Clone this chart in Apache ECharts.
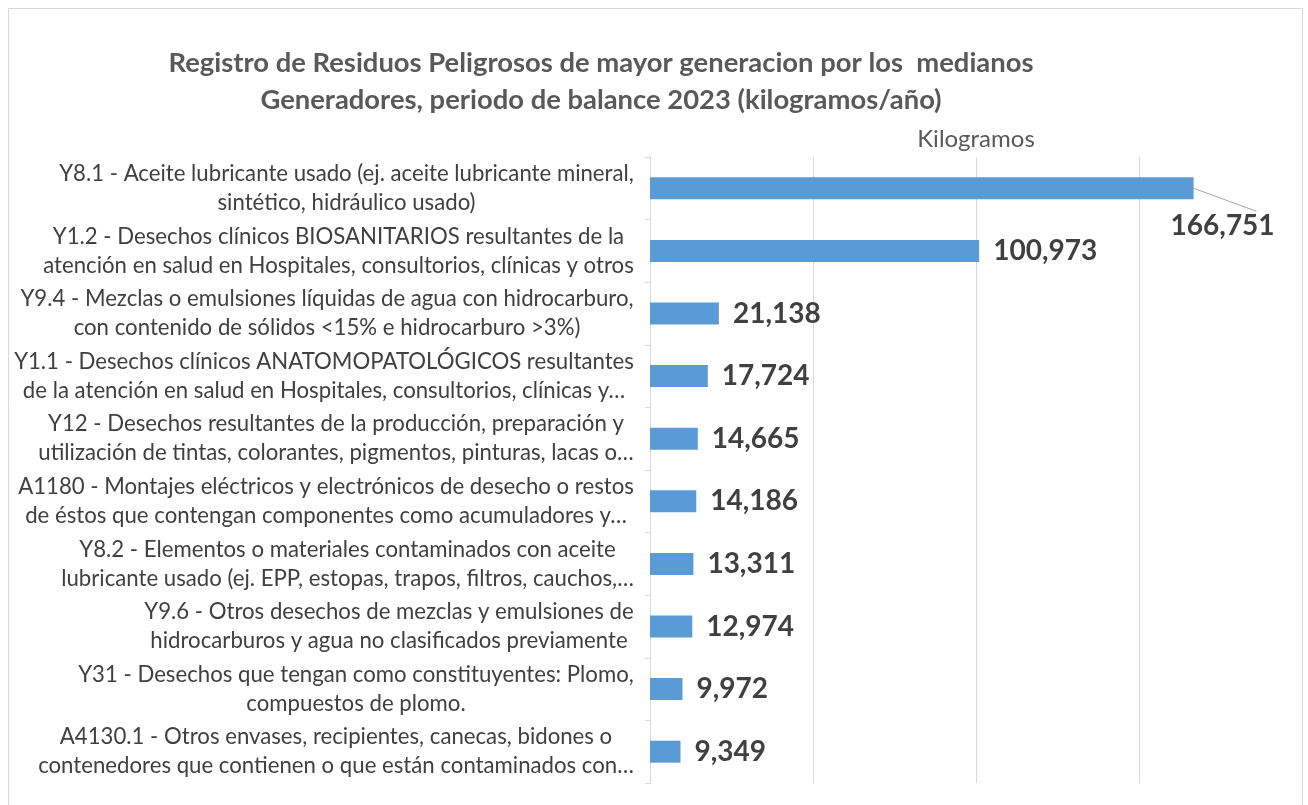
<!DOCTYPE html>
<html>
<head>
<meta charset="utf-8">
<script src="https://cdn.jsdelivr.net/npm/echarts@6/dist/echarts.min.js"></script>
<style>
  html, body { margin: 0; padding: 0; background: #fff; }
  #main { width: 1308px; height: 805px; }
</style>
</head>
<body>
<div id="main"></div>
<script>
var categories = [
  'Y8.1 - Aceite lubricante usado (ej. aceite lubricante mineral,\nsintético, hidráulico usado)',
  'Y1.2 - Desechos clínicos BIOSANITARIOS resultantes de la\natención en salud en Hospitales, consultorios, clínicas y otros',
  'Y9.4 - Mezclas o emulsiones líquidas de agua con hidrocarburo,\ncon contenido de sólidos <15% e hidrocarburo >3%)',
  'Y1.1 - Desechos clínicos ANATOMOPATOLÓGICOS resultantes\nde la atención en salud en Hospitales, consultorios, clínicas y…',
  'Y12 - Desechos resultantes de la producción, preparación y\nutilización de tintas, colorantes, pigmentos, pinturas, lacas o…',
  'A1180 - Montajes eléctricos y electrónicos de desecho o restos\nde éstos que contengan componentes como acumuladores y…',
  'Y8.2 - Elementos o materiales contaminados con aceite\nlubricante usado (ej. EPP, estopas, trapos, filtros, cauchos,…',
  'Y9.6 - Otros desechos de mezclas y emulsiones de\nhidrocarburos y agua no clasificados previamente',
  'Y31 - Desechos que tengan como constituyentes: Plomo,\ncompuestos de plomo.',
  'A4130.1 - Otros envases, recipientes, canecas, bidones o\ncontenedores que contienen o que están contaminados con…'
];
var values = [166751, 100973, 21138, 17724, 14665, 14186, 13311, 12974, 9972, 9349];
var seriesName = 'Kilogramos';
var chartTitle = 'Registro de Residuos Peligrosos de mayor generacion por los  medianos\nGeneradores, periodo de balance 2023 (kilogramos/año)';

var dom = document.getElementById('main');
var myChart = echarts.init(dom, null, {
  renderer: 'canvas',
  useDirtyRect: false
});

// each label is centred on its own widest line, block right-aligned to the axis
var labelFont = 'Lato';
var labelSize = 22.2;
var ctx = document.createElement('canvas').getContext('2d');
ctx.font = labelSize + 'px ' + labelFont;
var rich = {};
categories.forEach(function (c, i) {
  var w = Math.max.apply(null, c.split('\n').map(function (l) {
    return ctx.measureText(l).width;
  }));
  rich['c' + i] = {
    width: Math.ceil(w),
    align: 'center',
    fontSize: labelSize,
    fontFamily: labelFont,
    color: '#404040',
    lineHeight: 29
  };
});

var frame = {
  type: 'rect',
  shape: { x: 8.5, y: 8.5, width: 1294, height: 820 },
  style: { fill: 'none', stroke: '#d9d9d9', lineWidth: 1 },
  silent: true
};

var option = {
  title: {
    text: chartTitle,
    left: 596,
    top: 40,
    textAlign: 'center',
    textStyle: {
      fontFamily: 'Lato',
      fontSize: 27.4,
      fontWeight: 'bold',
      color: '#595959',
      lineHeight: 37
    }
  },
  graphic: [frame],
  grid: {
    left: 650,
    right: 6,
    top: 157,
    bottom: 22
  },
  xAxis: {
    type: 'value',
    position: 'top',
    min: 0,
    max: 200000,
    interval: 50000,
    name: seriesName,
    nameLocation: 'middle',
    nameGap: 6,
    nameTextStyle: { fontFamily: 'Lato', fontSize: 24, color: '#595959' },
    axisLine: { show: false },
    axisTick: { show: false },
    axisLabel: { show: false },
    splitLine: { lineStyle: { color: '#d9d9d9', width: 1 } }
  },
  yAxis: {
    type: 'category',
    inverse: true,
    data: categories,
    axisLine: { lineStyle: { color: '#d9d9d9' } },
    axisTick: { show: true, length: 5, lineStyle: { color: '#d9d9d9' } },
    axisLabel: {
      margin: 16,
      formatter: function (value, index) {
        return value.split('\n').map(function (l) {
          return '{c' + index + '|' + l + '}';
        }).join('\n');
      },
      rich: rich
    }
  },
  series: [
    {
      name: seriesName,
      type: 'bar',
      data: values,
      barWidth: 22,
      itemStyle: { color: '#5B9BD5' },
      label: {
        show: true,
        position: 'right',
        distance: 14,
        fontFamily: 'Lato',
        fontSize: 28,
        fontWeight: 'bold',
        color: '#404040',
        formatter: function (p) {
          return p.value.toLocaleString('en-US');
        }
      },
      labelLayout: function (p) {
        // the longest bar's label sits below-right of the bar end
        if (p.dataIndex === 0) {
          return { dx: -37, dy: 38 };
        }
      }
    }
  ]
};

if (option && typeof option === 'object') {
  myChart.setOption(option);
}

// leader line from the end of the first bar to its moved label
var end = myChart.convertToPixel({ seriesIndex: 0 }, [values[0], 0]);
myChart.setOption({
  graphic: [
    frame,
    {
      type: 'line',
      shape: { x1: end[0], y1: end[1], x2: end[0] + 63, y2: end[1] + 23 },
      style: { stroke: '#a6a6a6', lineWidth: 1 },
      silent: true
    }
  ]
});

window.addEventListener('resize', myChart.resize);
</script>
</body>
</html>
